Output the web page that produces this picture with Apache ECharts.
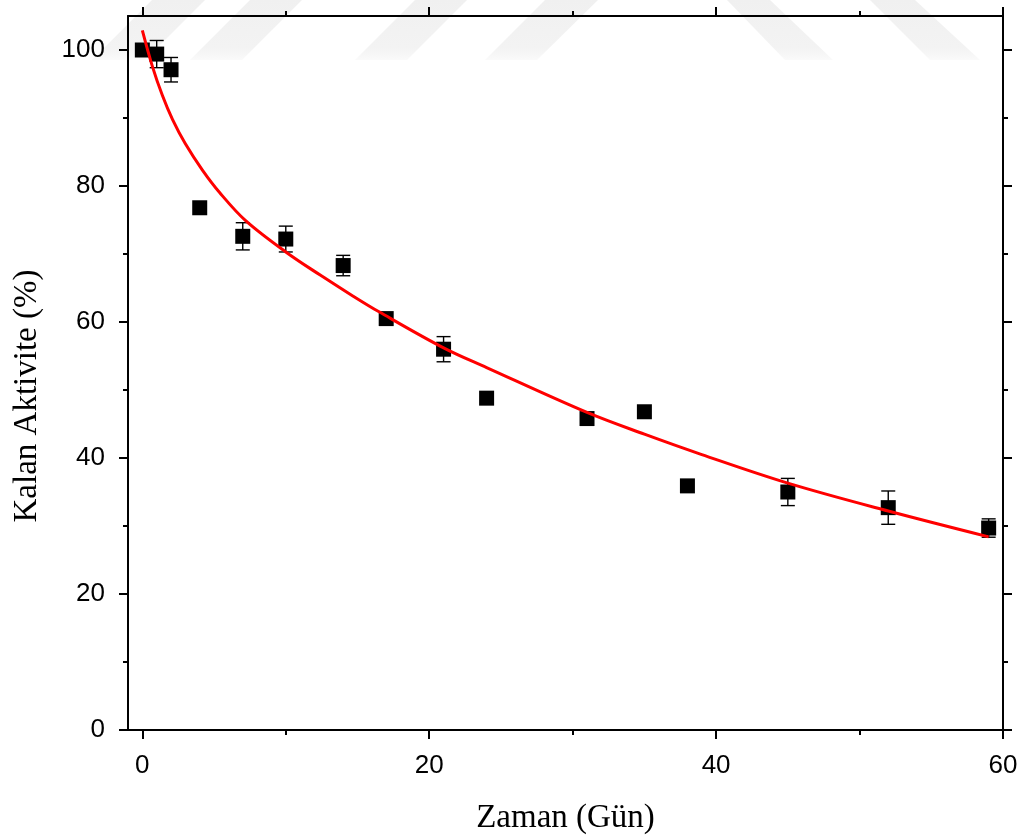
<!DOCTYPE html>
<html>
<head>
<meta charset="utf-8">
<script src="https://cdn.jsdelivr.net/npm/echarts@6/dist/echarts.min.js"></script>
<style>
  html, body { margin: 0; padding: 0; background: #ffffff; }
  #chart { width: 1024px; height: 840px; }
</style>
</head>
<body>
<div id="chart"></div>
<script>
// ---- data ----
const days = [0, 1, 2, 4, 7, 10, 14, 17, 21, 24, 31, 35, 38, 45, 52, 59];
const activity = [100, 99.4, 97.1, 76.8, 72.6, 72.2, 68.3, 60.5, 56.0, 48.8, 45.8, 46.8, 35.9, 35.0, 32.7, 29.7];
const errors = [0, 2.0, 1.8, 0, 2.0, 1.9, 1.5, 0, 1.85, 0, 0, 0, 0, 2.0, 2.45, 1.35];

const fitX = [0, 0.7, 1.4, 2.1, 3, 4.2, 5.4, 7.2, 10, 12.4, 14.7, 16.5, 21, 24, 31, 35, 39, 45, 52, 59];
const fitY = [102.9, 97.6, 93.3, 89.8, 86.2, 82.3, 79.0, 74.9, 70.3, 66.9, 63.8, 61.5, 56.2, 53.3, 46.7, 43.5, 40.5, 36.3, 32.2, 28.4];

const xMajorTicks = [0, 20, 40, 60];
const xMinorTicks = [10, 30, 50];
const yMajorTicks = [0, 20, 40, 60, 80, 100];
const yMinorTicks = [10, 30, 50, 70, 90];

const xTitle = 'Zaman (Gün)';
const yTitle = 'Kalan Aktivite (%)';

// ---- watermark stripes (decorative background) ----
const stripes = [
  [[152, 0], [205, 0], [145, 60], [92, 60]],
  [[250, 0], [302, 0], [242, 60], [190, 60]],
  [[415, 0], [467, 0], [407, 60], [355, 60]],
  [[545, 0], [598, 0], [537, 60], [485, 60]],
  [[727, 0], [770, 0], [833, 60], [785, 60]],
  [[870, 0], [915, 0], [980, 60], [930, 60]]
];

const chart = echarts.init(document.getElementById('chart'), null, { renderer: 'canvas' });

const labelFont = { fontFamily: 'Liberation Sans, Arial, sans-serif', fontSize: 26, color: '#000' };
const titleFont = { fontFamily: 'Liberation Serif, Times New Roman, serif', fontSize: 33, color: '#000' };

function xAx(position, ticks, len, showLine, showLabel, extra) {
  return Object.assign({
    type: 'value', min: -1, max: 60, position: position,
    axisLine: { show: showLine, onZero: false, lineStyle: { color: '#000', width: 2 } },
    axisTick: { show: true, inside: false, length: len, customValues: ticks, lineStyle: { color: '#000', width: 2 } },
    axisLabel: showLabel ? Object.assign({ show: true, customValues: ticks, margin: 23 }, labelFont) : { show: false },
    splitLine: { show: false }
  }, extra || {});
}
function yAx(position, ticks, len, showLine, showLabel, extra) {
  return Object.assign({
    type: 'value', min: 0, max: 105, position: position,
    axisLine: { show: showLine, onZero: false, lineStyle: { color: '#000', width: 2 } },
    axisTick: { show: true, inside: false, length: len, customValues: ticks, lineStyle: { color: '#000', width: 2 } },
    axisLabel: showLabel ? Object.assign({ show: true, customValues: ticks, margin: 23 }, labelFont) : { show: false },
    splitLine: { show: false }
  }, extra || {});
}

const errData = days.map((d, i) => [d, activity[i], errors[i]]).filter(r => r[2] > 0);

const option = {
  backgroundColor: '#ffffff',
  animation: false,
  graphic: stripes.map(pts => ({
    type: 'polygon', z: -10, silent: true,
    shape: { points: pts },
    style: {
      fill: new echarts.graphic.LinearGradient(0, 0, 0, 1, [
        { offset: 0, color: '#f0f0f0' },
        { offset: 0.8, color: '#f3f3f3' },
        { offset: 1, color: '#fafafa' }
      ])
    }
  })),
  grid: { left: 128, right: 21, top: 16, bottom: 110, containLabel: false },
  xAxis: [
    xAx('bottom', xMajorTicks, 9, true, true, {
      name: xTitle, nameLocation: 'middle', nameGap: 72, nameTextStyle: titleFont
    }),
    xAx('bottom', xMinorTicks, 5, false, false),
    xAx('top', xMajorTicks, 9, true, false),
    xAx('top', xMinorTicks, 5, false, false)
  ],
  yAxis: [
    yAx('left', yMajorTicks, 9, true, true, {
      name: yTitle, nameLocation: 'middle', nameGap: 84,
      nameTextStyle: Object.assign({ padding: [0, 46, 0, 0] }, titleFont)
    }),
    yAx('left', yMinorTicks, 5, false, false),
    yAx('right', yMajorTicks, 9, true, false),
    yAx('right', yMinorTicks, 5, false, false)
  ],
  series: [
    {
      type: 'custom', name: 'err', xAxisIndex: 0, yAxisIndex: 0, z: 3,
      data: errData,
      encode: { x: 0, y: 1 },
      renderItem: function (params, api) {
        const x = api.value(0), y = api.value(1), e = api.value(2);
        const top = api.coord([x, y + e]);
        const bot = api.coord([x, y - e]);
        const hw = 7;
        const st = { stroke: '#000', lineWidth: 1.4 };
        return {
          type: 'group',
          children: [
            { type: 'line', shape: { x1: top[0], y1: top[1], x2: bot[0], y2: bot[1] }, style: st },
            { type: 'line', shape: { x1: top[0] - hw, y1: top[1], x2: top[0] + hw, y2: top[1] }, style: st },
            { type: 'line', shape: { x1: bot[0] - hw, y1: bot[1], x2: bot[0] + hw, y2: bot[1] }, style: st }
          ]
        };
      }
    },
    {
      type: 'scatter', name: 'data', xAxisIndex: 0, yAxisIndex: 0, z: 4,
      symbol: 'rect', symbolSize: 15,
      itemStyle: { color: '#000', opacity: 1 },
      data: days.map((d, i) => [d, activity[i]])
    },
    {
      type: 'line', name: 'fit', xAxisIndex: 0, yAxisIndex: 0, z: 5,
      smooth: 0.35, showSymbol: false, symbol: 'none',
      lineStyle: { color: '#ff0000', width: 3 },
      data: fitX.map((x, i) => [x, fitY[i]])
    }
  ]
};
chart.setOption(option);
</script>
</body>
</html>
